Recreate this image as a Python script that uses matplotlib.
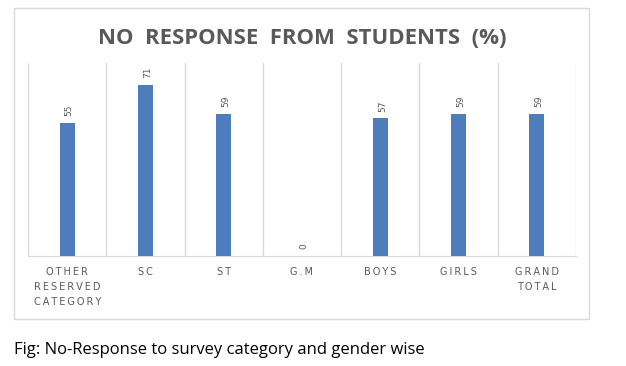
import numpy as np
import matplotlib
matplotlib.use('Agg')
import matplotlib.pyplot as plt
from matplotlib.patches import Rectangle

# Data
categories = ['OTHER\nRESERVED\nCATEGORY', 'SC', 'ST', 'G.M', 'BOYS', 'GIRLS', 'GRAND\nTOTAL']
no_response = [55, 71, 59, 0, 57, 59, 59]

title = 'NO  RESPONSE  FROM  STUDENTS  (%)'
caption = 'Fig: No-Response to survey category and gender wise'

grid_col = '#d9d9d9'
bar_col = '#4f7cba'
text_col = '#595959'


def spaced(label):
    # imitate the expanded letter spacing of the tick labels
    return '\n'.join('\u2009'.join(line) for line in label.split('\n'))


fig = plt.figure(figsize=(6.26, 3.66), dpi=100)

# outer chart frame
fig.patches.append(Rectangle((14 / 626, 1 - 319 / 366), 575 / 626, 311 / 366,
                             transform=fig.transFigure, fill=False,
                             edgecolor=grid_col, linewidth=1))

ax = fig.add_axes([28 / 626, 1 - 256 / 366, 548 / 626, 193 / 366])
x = np.arange(len(categories))
ax.bar(x, no_response, width=0.19, color=bar_col, zorder=3)

for xi, v in zip(x, no_response):
    ax.annotate(str(v), (xi, v), xytext=(1.5, 5), textcoords='offset points',
                rotation=90, ha='center', va='bottom', fontsize=6.5, color=text_col)

ax.set_xlim(-0.5, len(categories) - 0.5)
ax.set_ylim(0, 80)
for b in np.arange(-0.5, len(categories), 1.0):
    ax.axvline(b, color=grid_col, linewidth=1, zorder=1)

for s in ['top', 'left', 'right']:
    ax.spines[s].set_visible(False)
ax.spines['bottom'].set_color(grid_col)
ax.set_yticks([])
ax.set_xticks(x)
ax.set_xticklabels([spaced(c) for c in categories], fontsize=7, color=text_col,
                   linespacing=1.6, va='top')
ax.tick_params(axis='x', length=0, pad=8)

fig.text(302 / 626, 1 - 38 / 366, title, ha='center', va='center',
         fontsize=15.9, fontweight='bold', color=text_col, family='Open Sans')

fig.text(14 / 626, 1 - 350 / 366, caption, ha='left', va='center',
         fontsize=12, color='black', family='Open Sans')

fig.savefig('out.png', dpi=100)
